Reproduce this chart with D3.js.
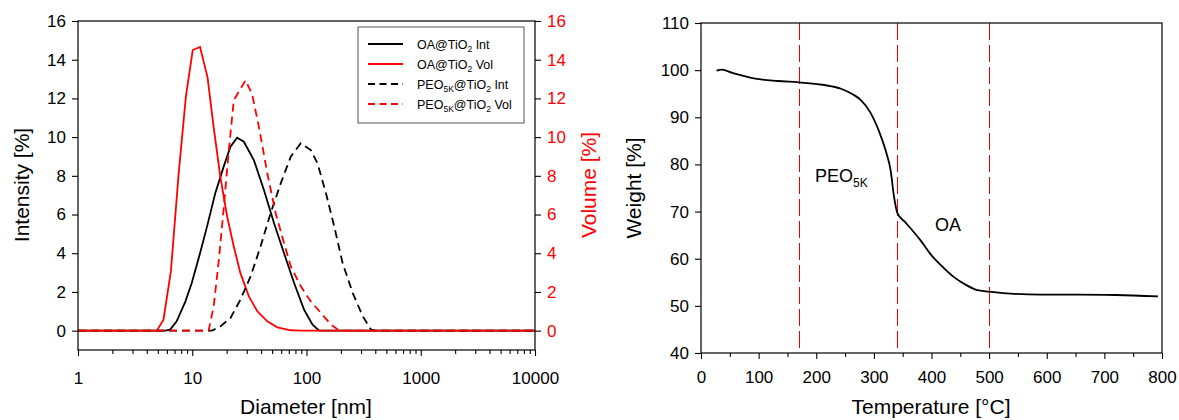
<!DOCTYPE html>
<html>
<head>
<meta charset="utf-8">
<script src="https://cdn.jsdelivr.net/npm/d3@7"></script>
<style>
  body { margin: 0; background: #fff; }
  svg { display: block; font-family: "Liberation Sans", Arial, sans-serif; }
</style>
</head>
<body>
<svg id="chart" width="1179" height="420"></svg>
<script>
// DLS size distributions, [diameter nm, %]
const oaInt = [[1,0],[5.8,0],[6.4,0.05],[7.3,0.48],[8.7,1.5],[9.9,2.46],[11.7,4.0],[13.5,5.4],[15.9,7.1],
  [18.9,8.5],[21.6,9.5],[24.7,9.97],[28.3,9.76],[34.7,8.8],[42.4,7.27],[52,5.55],[63.6,4.0],[77.9,2.46],
  [95.3,1.08],[113,0.31],[129,0],[10000,0]];
const oaVol = [[1,0],[4.9,0],[5.6,0.57],[6.5,3.06],[7.6,8.1],[8.8,12.1],[10.1,14.5],[11.7,14.66],[13.6,13.1],
  [15.4,10.5],[17.6,7.96],[20.2,5.9],[23.1,4.35],[26.4,2.97],[31.3,1.77],[37.1,1.0],[45.4,0.48],[55.6,0.17],
  [72.8,0.02],[90,0],[10000,0]];
const peoInt = [[1,0],[14.9,0],[17.6,0.22],[21.6,0.65],[26.4,1.6],[32.4,2.8],[39.6,4.35],[48.5,6.07],[59.4,7.6],
  [72.8,8.99],[89.1,9.68],[109,9.33],[125,8.64],[148,7.1],[175,5.38],[207,3.49],[254,1.94],[311,0.74],
  [368,0.05],[400,0],[10000,0]];
const peoVol = [[1,0],[13.9,0],[15.4,1.25],[17.1,3.66],[18.9,6.4],[20.9,9.33],[23.1,11.9],[25,12.25],[29.3,12.94],
  [33.5,12.2],[38.4,10.5],[45.4,8.13],[53.7,6.07],[63.6,4.52],[72.8,3.32],[89.1,2.29],[109,1.51],[134,0.91],
  [164,0.31],[194,0],[10000,0]];

// TGA, [temperature °C, weight %]
const tga = [[27,99.9],[36,100.1],[55,99.4],[94,98.2],[133,97.7],[170,97.4],[211,96.9],[244,96],[263,94.9],
  [277,93.7],[293,91.2],[309,87],[322,82.3],[329,78.8],[335,73.1],[341,69.6],[354,67.8],[381,63.9],[400,60.7],
  [420,58.2],[439,56.1],[459,54.5],[478,53.4],[500,53],[524,52.7],[589,52.4],[654,52.4],[720,52.3],[793,52]];
const stepTemps = [170, 340, 500];

const dlsTicksY = [0, 2, 4, 6, 8, 10, 12, 14, 16];
const dlsTicksX = [1, 10, 100, 1000, 10000];
const tgaTicksY = [40, 50, 60, 70, 80, 90, 100, 110];
const tgaTicksX = [0, 100, 200, 300, 400, 500, 600, 700, 800];

const legendItems = [
  { pre: "OA", sub1: null, color: "#000", dash: null, data: oaInt, tail: " Int" },
  { pre: "OA", sub1: null, color: "#f00", dash: null, data: oaVol, tail: " Vol" },
  { pre: "PEO", sub1: "5K", color: "#000", dash: "8,5", data: peoInt, tail: " Int" },
  { pre: "PEO", sub1: "5K", color: "#f00", dash: "8,5", data: peoVol, tail: " Vol" }
];

const svg = d3.select("#chart");
const tickFont = 17, titleFont = 21;

// ---------- left: DLS ----------
const x1 = d3.scaleLog().domain([1, 10000]).range([78, 535]);
const y1 = d3.scaleLinear().domain([-1, 16]).range([350, 21]);

const g1 = svg.append("g");

const line1 = d3.line().x(d => x1(d[0])).y(d => y1(d[1]));
[0, 1, 2, 3].forEach(i => {
  const it = legendItems[i];
  g1.append("path").datum(it.data)
    .attr("d", line1).attr("fill", "none")
    .attr("stroke", it.color).attr("stroke-width", 1.8)
    .attr("stroke-dasharray", it.dash);
});

// frame
g1.append("rect").attr("x", 78).attr("y", 21).attr("width", 535 - 78).attr("height", 350 - 21)
  .attr("fill", "none").attr("stroke", "#000").attr("stroke-width", 1.2);

const minorLog = [];
for (let e = 0; e < 4; e++) for (let m = 2; m <= 9; m++) minorLog.push(m * Math.pow(10, e));

g1.append("g").attr("transform", "translate(0,350)")
  .call(d3.axisBottom(x1).tickValues(dlsTicksX).tickFormat(d3.format("d")).tickSize(6).tickPadding(16));
g1.append("g").attr("transform", "translate(0,350)")
  .call(d3.axisBottom(x1).tickValues(minorLog).tickFormat("").tickSize(4));

g1.append("g").attr("transform", "translate(78,0)")
  .call(d3.axisLeft(y1).tickValues(dlsTicksY).tickSize(6).tickPadding(6));
const axR1 = g1.append("g").attr("transform", "translate(535,0)")
  .call(d3.axisRight(y1).tickValues(dlsTicksY).tickSize(6).tickPadding(6));
axR1.selectAll("text").attr("fill", "#f00");

// ---------- right: TGA ----------
const x2 = d3.scaleLinear().domain([0, 800]).range([701, 1162]);
const y2 = d3.scaleLinear().domain([40, 110]).range([353, 23]);
const g2 = svg.append("g");

g2.selectAll("line.step").data(stepTemps).join("line")
  .attr("x1", d => Math.round(x2(d)) + 0.5).attr("x2", d => Math.round(x2(d)) + 0.5)
  .attr("y1", y2(110)).attr("y2", y2(40))
  .attr("stroke", "#e00").attr("stroke-width", 1).attr("stroke-dasharray", "17,5")
  .attr("shape-rendering", "crispEdges");

g2.append("path").datum(tga)
  .attr("d", d3.line().x(d => x2(d[0])).y(d => y2(d[1])).curve(d3.curveMonotoneX))
  .attr("fill", "none").attr("stroke", "#000").attr("stroke-width", 1.8);

g2.append("rect").attr("x", 701).attr("y", 23).attr("width", 1162 - 701).attr("height", 353 - 23)
  .attr("fill", "none").attr("stroke", "#000").attr("stroke-width", 1.2);

g2.append("g").attr("transform", "translate(0,353)")
  .call(d3.axisBottom(x2).tickValues(tgaTicksX).tickSize(6).tickPadding(12));
g2.append("g").attr("transform", "translate(0,353)")
  .call(d3.axisBottom(x2).tickValues(d3.range(50, 800, 100)).tickFormat("").tickSize(4));
g2.append("g").attr("transform", "translate(701,0)")
  .call(d3.axisLeft(y2).tickValues(tgaTicksY).tickSize(6).tickPadding(6));

// axis styling
svg.selectAll(".domain").remove();
svg.selectAll(".tick line").attr("stroke", "#000").attr("stroke-width", 1.1);
svg.selectAll(".tick text").attr("font-size", tickFont).attr("font-family", "Liberation Sans, Arial, sans-serif");

// ---------- titles ----------
function title(txt, x, y, rot, color) {
  svg.append("text").attr("transform", `translate(${x},${y}) rotate(${rot})`)
    .attr("text-anchor", "middle").attr("font-size", titleFont).attr("fill", color || "#000").text(txt);
}
title("Intensity [%]", 29, 185, -90);
title("Volume [%]", 596, 185, -90, "#f00");
title("Diameter [nm]", 306, 414, 0);
title("Weight [%]", 641, 188, -90);
title("Temperature [°C]", 931, 414, 0);

// PEO5K / OA labels on the TGA
const peo = svg.append("text").attr("x", 815).attr("y", 182).attr("font-size", 18);
peo.append("tspan").text("PEO");
peo.append("tspan").attr("font-size", 12).attr("dy", 5).text("5K");
svg.append("text").attr("x", 935).attr("y", 231).attr("font-size", 18).text("OA");

// ---------- legend ----------
const lg = svg.append("g");
lg.append("rect").attr("x", 358).attr("y", 27).attr("width", 166).attr("height", 96)
  .attr("fill", "#fff").attr("stroke", "#555").attr("stroke-width", 1);
legendItems.forEach((it, i) => {
  const yy = 44 + i * 20;
  lg.append("line").attr("x1", 368).attr("x2", 403).attr("y1", yy).attr("y2", yy)
    .attr("stroke", it.color).attr("stroke-width", 1.8).attr("stroke-dasharray", it.dash ? "7,4.5" : null);
  const t = lg.append("text").attr("x", 417).attr("y", yy + 4.5).attr("font-size", 12.5);
  t.append("tspan").text(it.pre);
  if (it.sub1) t.append("tspan").attr("font-size", 8.5).attr("dy", 3).text(it.sub1);
  t.append("tspan").attr("dy", it.sub1 ? -3 : 0).text("@TiO");
  t.append("tspan").attr("font-size", 8.5).attr("dy", 3).text("2");
  t.append("tspan").attr("dy", -3).text(it.tail);
});
</script>
</body>
</html>
